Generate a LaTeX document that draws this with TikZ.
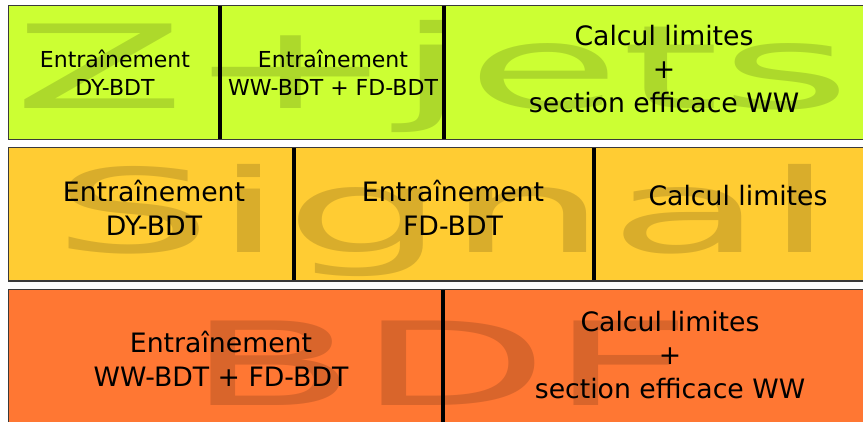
\documentclass[tikz,border=0pt]{standalone}
\usepackage{fontspec}
\setmainfont{DejaVu Sans}
\definecolor{zjets}{HTML}{CCFF33}
\definecolor{signal}{HTML}{FFCC33}
\definecolor{bdf}{HTML}{FF7733}
\definecolor{cadre}{HTML}{3A3A3A}
\tikzset{
  bande/.style={draw=cadre, line width=1.6pt},
  filigrane/.style={anchor=base west, inner sep=0pt, text=black, text opacity=.15,
    font=\fontsize{116}{116}\selectfont},
  separ/.style={line width=4pt},
  petit/.style={align=center, font=\fontsize{22}{28}\selectfont},
  grand/.style={align=center, font=\fontsize{26.7}{33.5}\selectfont},
}

\begin{document}
\begin{tikzpicture}[x=1pt,y=-1pt]
  \path[use as bounding box, clip] (0,0) rectangle (863,421);

  % bande Z+jets
  \fill[zjets] (8.5,5.5) rectangle (885,139.5);
  \begin{scope}
    \clip (8.5,5.5) rectangle (885,139.5);
    \node[filigrane] (fz) at (13,108) {\scalebox{2.17}[1]{Z+jets}};
  \end{scope}
  \draw[separ] (220,5.5)--(220,139.5);
  \draw[separ] (443.5,5.5)--(443.5,139.5);
  \node[petit] (dy1) at (115,73) {Entraînement\\DY-BDT};
  \node[petit] (ww1) at (333,73) {Entraînement\\WW-BDT + FD-BDT};
  \node[grand] (lim1) at (664,69) {Calcul limites\\+\\section efficace WW};
  \draw[bande] (8.5,5.5) rectangle (885,139.5);

  % bande Signal
  \fill[signal] (8.5,147.5) rectangle (885,281);
  \begin{scope}
    \clip (8.5,147.5) rectangle (885,281);
    \node[filigrane] (fs) at (51,252) {\scalebox{2.2}[1]{Signal}};
  \end{scope}
  \draw[separ] (294,147.5)--(294,281);
  \draw[separ] (594,147.5)--(594,281);
  \node[grand] (dy2) at (154,208) {Entraînement\\DY-BDT};
  \node[grand] (fd2) at (453,208) {Entraînement\\FD-BDT};
  \node[grand] (lim2) at (738,196) {Calcul limites};
  \draw[bande] (8.5,147.5) rectangle (885,281);

  % bande BDF
  \fill[bdf] (8.5,289.5) rectangle (885,440);
  \begin{scope}
    \clip (8.5,289.5) rectangle (885,440);
    \node[filigrane] (fb) at (186,405) {\scalebox{2.15}[1]{BDF}};
  \end{scope}
  \draw[separ] (443,289.5)--(443,440);
  \node[grand] (ww3) at (221,359) {Entraînement\\WW-BDT + FD-BDT};
  \node[grand] (lim3) at (670,355) {Calcul limites\\+\\section efficace WW};
  \draw[bande] (8.5,289.5) rectangle (885,440);
\end{tikzpicture}
\end{document}
